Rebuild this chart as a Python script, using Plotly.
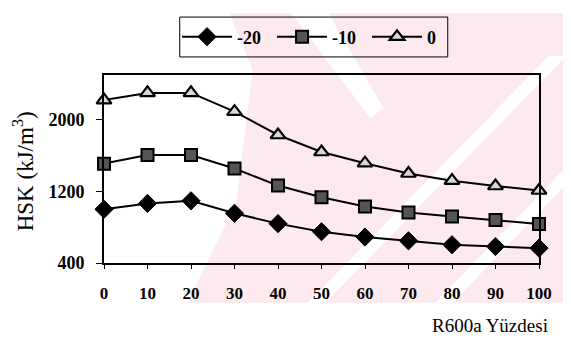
import plotly.graph_objects as go

# ---- data ----
x_pct = [0, 10, 20, 30, 40, 50, 60, 70, 80, 90, 100]
x_ticks = [0, 10, 20, 30, 40, 50, 60, 70, 80, 90, 100]
y_ticks = [400, 1200, 2000]
series_m20 = [1000, 1065, 1095, 955, 840, 750, 690, 648, 604, 584, 566]
series_m10 = [1510, 1605, 1605, 1455, 1265, 1135, 1030, 965, 920, 880, 835]
series_0 = [2220, 2300, 2300, 2090, 1830, 1640, 1515, 1400, 1320, 1260, 1210]
names = ["-20", "-10", "0"]

# page body has an 8px margin; figure is offset by it
OFF = 8
W, H = 571 - 2 * OFF, 349 - 2 * OFF
L = 104 - OFF
T = 65 - OFF
R = W - (552 - OFF)
B = H - (263 - OFF)
PW, PH = W - L - R, H - T - B


def px(xr, yr):
    """reference-image pixel -> paper coords"""
    xp, yp = xr - OFF, yr - OFF
    return ((xp - L) / PW, (H - B - yp) / PH)


def path(pts):
    s = ""
    for i, (a, b) in enumerate(pts):
        u, v = px(a, b)
        s += ("M" if i == 0 else "L") + f"{u:.4f},{v:.4f} "
    return s + "Z"


FONT = "Liberation Serif, Times New Roman, serif"
fig = go.Figure()

common = dict(mode="lines+markers", line=dict(color="black", width=2), cliponaxis=False)
fig.add_trace(go.Scatter(x=x_pct, y=series_m20, name=names[0],
                         marker=dict(symbol="diamond", size=14, color="black",
                                     line=dict(color="black", width=1)), **common))
fig.add_trace(go.Scatter(x=x_pct, y=series_m10, name=names[1],
                         marker=dict(symbol="square", size=12, color="#555555",
                                     line=dict(color="black", width=2)), **common))
fig.add_trace(go.Scatter(x=x_pct, y=series_0, name=names[2],
                         marker=dict(symbol="triangle-up", size=13, color="#d8d8d8",
                                     line=dict(color="black", width=2.2)), **common))

pink = "rgb(252,234,238)"
shapes = [
    dict(type="path", xref="paper", yref="paper", layer="below", line=dict(width=0),
         fillcolor=pink,
         path=path([(233, 0), (580, 0), (580, 305), (190, 305), (240, 200), (257, 60)])),
    dict(type="path", xref="paper", yref="paper", layer="below", line=dict(width=0),
         fillcolor="white",
         path=path([(297, 0), (335, 0), (392, 100), (378, 110)])),
    dict(type="path", xref="paper", yref="paper", layer="below", line=dict(width=0),
         fillcolor="white",
         path=path([(314, 305), (332, 305), (580, 45), (562, 45)])),
    dict(type="path", xref="paper", yref="paper", layer="below", line=dict(width=0),
         fillcolor="white",
         path=path([(445, 305), (463, 305), (580, 180), (580, 162)])),
    # legend box
    dict(type="path", xref="paper", yref="paper", layer="above",
         line=dict(color="black", width=1), fillcolor="rgba(0,0,0,0)",
         path=path([(182, 4), (458, 4), (458, 46), (182, 46)])),
]

lx, ly = px(326, 25)
fig.update_layout(
    width=W, height=H,
    margin=dict(l=L, r=R, t=T, b=B),
    paper_bgcolor="white",
    plot_bgcolor="rgba(0,0,0,0)",
    shapes=shapes,
    showlegend=True,
    legend=dict(orientation="h", x=lx, y=ly, xanchor="center", yanchor="middle",
                bgcolor="rgba(0,0,0,0)", borderwidth=0, itemwidth=50,
                entrywidth=30, entrywidthmode="pixels",
                font=dict(family=FONT, size=18, color="black", weight="bold")),
    xaxis=dict(range=[0, 100], tickvals=x_ticks, ticktext=[str(v) for v in x_ticks],
               showgrid=False, zeroline=False, showline=True, linecolor="black",
               linewidth=2, mirror=True, ticks="outside", ticklen=4, tickwidth=1,
               tickcolor="black", ticklabelstandoff=10,
               tickfont=dict(family=FONT, size=17, color="black", weight="bold")),
    yaxis=dict(range=[400, 2500], tickvals=y_ticks, ticktext=[str(v) for v in y_ticks],
               showgrid=False, zeroline=False, showline=True, linecolor="black",
               linewidth=2, mirror=True, ticks="outside", ticklen=6, tickwidth=1,
               tickcolor="black", ticklabelstandoff=8,
               tickfont=dict(family=FONT, size=18, color="black", weight="bold")),
    annotations=[
        dict(text="HSK (kJ/m<sup>3</sup>)", xref="paper", yref="paper",
             x=px(22, 0)[0], y=px(0, 166)[1], xanchor="center", yanchor="middle",
             textangle=-90, showarrow=False,
             font=dict(family=FONT, size=23, color="black")),
        dict(text="R600a Yüzdesi", xref="paper", yref="paper",
             x=px(563, 0)[0], y=px(0, 329)[1], xanchor="right", yanchor="middle",
             showarrow=False,
             font=dict(family=FONT, size=19, color="black")),
    ],
)

fig.write_html("out.html")
